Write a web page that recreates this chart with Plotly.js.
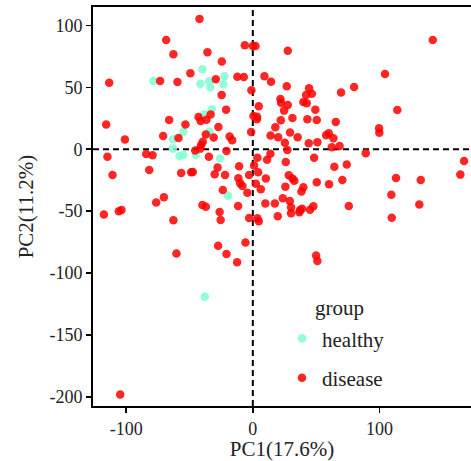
<!DOCTYPE html>
<html>
<head>
<meta charset="utf-8">
<script src="https://cdn.plot.ly/plotly-3.0.1.min.js"></script>
<style>
html,body{margin:0;padding:0;background:#fff;}
#chart{width:471px;height:461px;}
</style>
</head>
<body>
<div id="chart"></div>
<script>
// PCA scores
const groupNames = ["healthy", "disease"];
const healthyPC1 = [-78.5,-39.8,-41.4,-34.5,-33.5,-22.4,-23.2,-32.4,-38.4,-54.8,-34.3,-63.1,-63.1,-57.9,-54.8,-44.8,-25.8,-19.5,-37.9];
const healthyPC2 = [55.2,64.6,53.0,54.9,49.8,59.0,52.5,32.3,28.3,14.2,14.2,8.1,0.5,-5.4,-4.4,-4.6,-7.4,-37.5,-119.1];

const diseasePC1 = [
 -42.1,-68.4,-62.7,-35.8,-113.4,-73.2,-59.5,-49.3,-29.2,-24.5,-24.6,-115.8,-66.1,-53.2,-42.9,-41.2,-36.6,-33.3,-27.2,-37.1,
 -30.9,-101.0,-70.8,-58.7,-6.3,0.0,2.1,27.6,-12.2,-7.1,9.2,14.4,26.8,-1.1,44.4,42.1,46.6,69.7,21.8,22.3,
 27.6,24.7,39.9,42.6,49.4,4.7,-21.1,0.5,3.4,3.2,22.1,31.3,43.1,50.5,65.5,17.8,-1.3,29.4,-18.3,14.0,
 20.0,35.4,57.9,60.0,-16.3,142.1,104.4,80.0,114.1,99.7,99.9,-39.5,-40.8,-114.8,-84.2,-79.2,-45.5,-41.6,-34.7,-110.8,
 -81.8,-56.6,-48.7,-47.4,-30.1,-27.8,-70.2,-76.3,-39.8,-37.1,-117.6,-105.8,-103.7,-62.7,-26.2,-25.4,-27.4,-60.3,63.6,25.3,
 44.2,51.0,62.4,68.5,-20.8,3.6,13.9,11.3,27.3,26.0,48.4,-10.8,-21.9,1.0,4.2,-2.9,10.3,-11.4,-10.0,-8.2,
 2.4,-4.3,6.3,-23.7,28.4,31.3,32.8,50.5,60.2,64.4,25.7,39.9,38.4,23.7,29.2,9.9,17.4,-11.6,30.2,30.2,
 37.3,38.9,36.8,45.2,47.8,19.7,-2.9,3.6,4.7,-5.8,-20.8,-12.4,50.0,51.0,89.2,166.8,163.9,74.2,70.7,113.1,
 132.6,109.4,131.5,75.8,109.7,-104.7
];
const diseasePC2 = [
 105.3,88.3,76.7,78.4,53.8,55.2,54.4,61.4,56.5,70.8,43.9,19.9,23.7,20.0,26.1,22.9,23.9,28.1,18.0,12.0,
 9.5,7.9,10.7,9.1,84.0,83.4,83.4,79.6,58.6,58.4,59.0,54.6,50.9,47.7,49.3,43.9,44.9,45.9,40.6,37.6,
 35.8,31.2,38.2,37.2,32.0,34.7,32.0,26.9,26.3,24.2,23.4,25.3,24.2,23.7,22.1,17.8,14.0,13.6,10.3,11.1,
 9.7,9.7,11.4,12.9,7.3,88.3,60.8,50.3,31.7,17.0,13.4,6.1,3.5,-6.0,-3.8,-4.8,-1.1,0.5,-6.0,-20.8,
 -16.7,-19.1,-18.6,-18.3,-20.2,-14.7,-38.8,-43.1,-45.0,-46.4,-52.8,-50.1,-49.0,-57.4,-50.6,-57.1,-77.9,-84.3,8.9,5.3,
 4.8,5.7,1.6,2.7,-1.4,-6.8,-3.6,-8.4,-0.6,-10.3,-6.8,-13.7,-20.8,-13.2,-18.6,-20.8,-23.7,-23.4,-27.5,-29.6,
 -27.8,-35.1,-32.3,-32.9,-21.0,-23.7,-25.4,-26.7,-28.3,-14.1,-30.2,-30.7,-34.2,-39.6,-41.8,-43.9,-43.9,-45.8,-46.8,-51.7,
 -49.0,-48.0,-50.9,-48.8,-46.0,-54.1,-55.5,-55.7,-58.2,-75.4,-84.6,-91.3,-85.9,-90.2,-3.2,-9.5,-20.5,-12.4,-24.8,-23.2,
 -24.8,-36.7,-44.7,-45.8,-55.3,-198.2
];
const xTickVals = [-100, 0, 100];
const yTickVals = [-200, -150, -100, -50, 0, 50, 100];
const xTitle = "PC1(17.6%)";
const yTitle = "PC2(11.2%)";
const legendTitle = "group";

const FONT = "Liberation Serif";
const TEXT = "#222";
const traces = [
  {type:"scatter", mode:"markers", name:groupNames[0], legendgroup:"a",
   x:healthyPC1, y:healthyPC2,
   marker:{color:"#7FFFD4", size:8.5, opacity:0.85, line:{width:0}}},
  {type:"scatter", mode:"markers", name:groupNames[1], legendgroup:"b",
   x:diseasePC1, y:diseasePC2,
   marker:{color:"#FF0000", size:8.5, opacity:0.85, line:{width:0}}}
];
function axisBase(){
  return {
    showgrid:false, zeroline:false, showline:true, mirror:true,
    linecolor:"#000", linewidth:2, ticks:"outside", ticklen:5, tickwidth:1.5, tickcolor:"#000",
    tickfont:{family:FONT, size:18, color:TEXT}
  };
}
const layout = {
  width:471, height:461,
  font:{family:FONT, size:18, color:TEXT},
  margin:{l:93, r:0, t:7, b:55},
  paper_bgcolor:"#fff", plot_bgcolor:"#fff",
  showlegend:true,
  xaxis:Object.assign(axisBase(), {range:[-126.2,172.3], tickvals:xTickVals, ticktext:xTickVals.map(String),
     title:{text:xTitle, font:{family:FONT, size:21, color:TEXT}, standoff:6}}),
  yaxis:Object.assign(axisBase(), {range:[-207.4,114.9], tickvals:yTickVals, ticktext:yTickVals.map(String),
     title:{text:yTitle, font:{family:FONT, size:21, color:TEXT}, standoff:10}}),
  legend:{x:0.5, y:0.22, xanchor:"left", yanchor:"top", bgcolor:"rgba(0,0,0,0)",
     font:{family:FONT, size:21, color:TEXT}, tracegroupgap:9, itemwidth:30},
  annotations:[{text:legendTitle, xref:"paper", yref:"paper", x:0.582, y:0.2456, xanchor:"left", yanchor:"middle",
     showarrow:false, font:{family:FONT, size:21, color:TEXT}}],
  shapes:[
    {type:"line", xref:"x", yref:"paper", x0:0, x1:0, y0:0, y1:1, line:{color:"#000", width:2, dash:"6px,4px"}, layer:"below"},
    {type:"line", xref:"paper", yref:"y", x0:0, x1:1, y0:0, y1:0, line:{color:"#000", width:2, dash:"6px,4px"}, layer:"below"}
  ]
};
Plotly.newPlot("chart", traces, layout, {displayModeBar:false, staticPlot:true});
</script>
</body>
</html>
